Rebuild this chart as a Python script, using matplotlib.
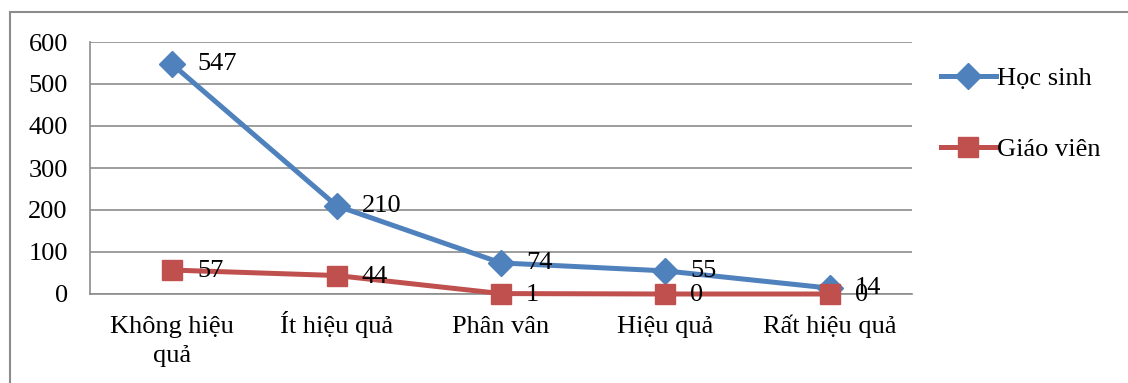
import matplotlib
matplotlib.use("Agg")
import matplotlib.pyplot as plt
from matplotlib.patches import Rectangle
from matplotlib.transforms import ScaledTranslation

categories = ["Không hiệu\nquả", "Ít hiệu quả", "Phân vân", "Hiệu quả", "Rất hiệu quả"]
hoc_sinh = [547, 210, 74, 55, 14]
giao_vien = [57, 44, 1, 0, 0]
series_names = ["Học sinh", "Giáo viên"]
y_ticks = [0, 100, 200, 300, 400, 500, 600]

plt.rcParams['font.family'] = ['Liberation Serif', 'DejaVu Serif']
FS = 19
W, H = 1128, 383
fig = plt.figure(figsize=(W/100, H/100), dpi=100)
fig.patches.append(Rectangle((10/W, -0.1), 1.2, (H-12)/H + 0.1, transform=fig.transFigure,
                             fill=False, edgecolor='#8c8c8c', lw=1.5))
ax = fig.add_axes([90/W, (H-294)/H, (912-90)/W, (294-42)/H])

x = list(range(len(categories)))
blue = '#4F81BD'
red = '#C0504D'
ax.plot(x, hoc_sinh, color=blue, lw=3.6, marker='D', ms=13, label=series_names[0],
        zorder=3, clip_on=False)
ax.plot(x, giao_vien, color=red, lw=3.6, marker='s', ms=14, label=series_names[1],
        zorder=3, clip_on=False)
for xi, v in zip(x, hoc_sinh):
    ax.annotate(str(v), (xi, v), xytext=(18, 0), textcoords='offset points',
                ha='left', va='center', fontsize=FS, zorder=4)
for xi, v in zip(x, giao_vien):
    ax.annotate(str(v), (xi, v), xytext=(18, -1), textcoords='offset points',
                ha='left', va='center', fontsize=FS, zorder=4)

ax.set_xlim(-0.5, len(categories) - 0.5)
ax.set_ylim(0, 600)
ax.set_yticks(y_ticks)
ax.set_yticklabels([str(t) for t in y_ticks], fontsize=FS)
ax.set_xticks(x)
ax.set_xticklabels(categories, fontsize=FS, linespacing=1.4)
ax.tick_params(axis='both', length=0)
ax.tick_params(axis='y', pad=16)
ax.tick_params(axis='x', pad=28)
for lbl in ax.get_xticklabels():
    lbl.set_verticalalignment('baseline')
    n_extra = lbl.get_text().count('\n')
    if n_extra:
        lbl.set_transform(lbl.get_transform() +
                          ScaledTranslation(0, -0.29 * n_extra, fig.dpi_scale_trans))
ax.grid(axis='y', color='#8c8c8c', lw=1.2)
ax.set_axisbelow(True)
for s in ['top', 'right']:
    ax.spines[s].set_visible(False)
for s in ['left', 'bottom']:
    ax.spines[s].set_color('#8c8c8c')
    ax.spines[s].set_linewidth(1.2)

leg = fig.legend(loc='upper left', bbox_to_anchor=(917/W, (H-43)/H), frameon=False,
                 fontsize=FS, labelspacing=1.8, handlelength=2.1, handletextpad=0.05)

fig.savefig('out.png', dpi=100)
